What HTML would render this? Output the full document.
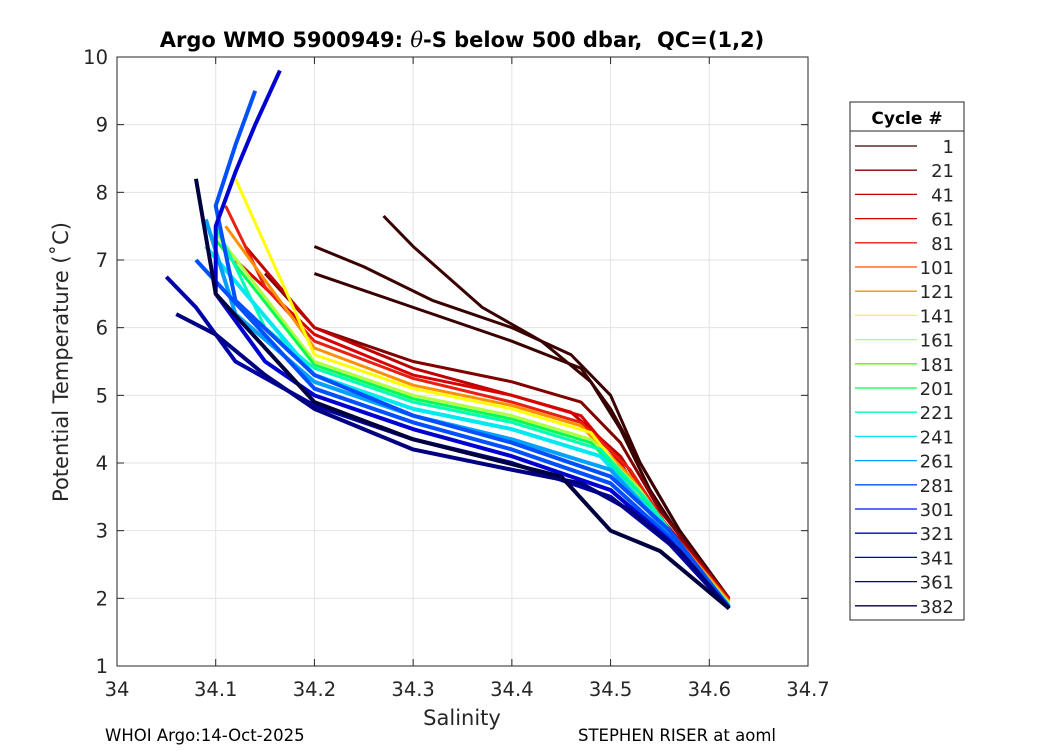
<!DOCTYPE html>
<html><head><meta charset="utf-8"><style>
body{margin:0;background:#fff;}
svg text{font-family:"DejaVu Sans","Liberation Sans",sans-serif;}
</style></head><body>
<svg id="c" width="1050" height="750" xmlns="http://www.w3.org/2000/svg">
<rect width="1050" height="750" fill="#fff"/>
<text x="462" y="47" font-size="21" font-weight="bold" text-anchor="middle" style="white-space:pre">Argo WMO 5900949: <tspan font-style="italic" font-weight="normal" font-family="DejaVu Serif,serif">θ</tspan>-S below 500 dbar,  QC=(1,2)</text>
<g id="grid"></g><g id="lines"></g><g id="axes"></g>
<text x="462" y="725" font-size="21" text-anchor="middle" fill="#262626">Salinity</text>
<text transform="translate(68,362) rotate(-90)" font-size="21" text-anchor="middle" fill="#262626">Potential Temperature (˚C)</text>
<text x="105" y="741" font-size="16.5">WHOI Argo:14-Oct-2025</text>
<text x="578" y="741" font-size="16.5">STEPHEN RISER at aoml</text>
<g id="legend"></g>
</svg>
<script>
const xTicks=[34,34.1,34.2,34.3,34.4,34.5,34.6,34.7];
const yTicks=[1,2,3,4,5,6,7,8,9,10];
const legendCycles=[1,21,41,61,81,101,121,141,161,181,201,221,241,261,281,301,321,341,361,382];
const legendColors=["#3a0000","#800000","#bf0000","#d80000","#e82010","#ff5000","#ff9000","#ffff00","#b0ff40","#50ff00","#00ff50","#00ffb0","#00e8f0","#00a0ff","#0050ff","#0010ff","#0000d0","#0000a8","#000080","#000040"];
const profileCycles=[1,5,10,25,45,70,100,130,150,180,210,230,250,270,290,300,330,350,370,382];
const profileS=[
[34.27,34.3,34.37,34.43,34.48,34.51,34.54,34.58,34.62],
[34.2,34.25,34.32,34.4,34.46,34.5,34.53,34.57,34.62],
[34.2,34.3,34.4,34.47,34.5,34.53,34.57,34.62],
[34.15,34.2,34.3,34.4,34.47,34.51,34.55,34.62],
[34.13,34.2,34.3,34.4,34.46,34.51,34.55,34.62],
[34.12,34.2,34.3,34.4,34.47,34.51,34.55,34.62],
[34.11,34.15,34.2,34.3,34.4,34.47,34.52,34.56,34.62],
[34.11,34.2,34.3,34.4,34.47,34.52,34.56,34.62],
[34.12,34.2,34.3,34.4,34.48,34.52,34.56,34.62],
[34.1,34.2,34.3,34.4,34.48,34.53,34.57,34.62],
[34.1,34.2,34.3,34.4,34.48,34.53,34.57,34.62],
[34.1,34.15,34.2,34.3,34.4,34.49,34.54,34.58,34.62],
[34.09,34.2,34.3,34.4,34.49,34.54,34.58,34.62],
[34.09,34.12,34.2,34.3,34.4,34.5,34.55,34.62],
[34.08,34.2,34.3,34.4,34.5,34.56,34.62],
[34.14,34.12,34.1,34.12,34.2,34.3,34.4,34.5,34.56,34.62],
[34.165,34.14,34.12,34.1,34.1,34.15,34.2,34.3,34.4,34.5,34.56,34.62],
[34.05,34.08,34.12,34.2,34.3,34.4,34.5,34.56,34.62],
[34.06,34.1,34.15,34.2,34.3,34.4,34.47,34.52,34.57,34.62],
[34.08,34.1,34.2,34.3,34.45,34.5,34.55,34.62]];
const profileT=[
[7.65,7.2,6.3,5.8,5.2,4.5,3.6,2.7,2.0],
[7.2,6.9,6.4,6.0,5.6,5.0,4.0,3.0,2.0],
[6.8,6.3,5.8,5.4,4.8,4.0,3.0,2.0],
[6.8,6.0,5.5,5.2,4.9,4.3,3.3,2.0],
[7.2,6.0,5.4,5.0,4.75,4.1,3.2,2.0],
[7.0,5.9,5.3,5.0,4.7,4.0,3.1,1.98],
[7.8,6.6,5.8,5.25,4.9,4.6,3.9,3.0,1.97],
[7.5,5.7,5.15,4.85,4.55,3.8,3.0,1.95],
[8.2,5.6,5.1,4.8,4.45,3.7,2.9,1.93],
[7.4,5.5,5.0,4.7,4.35,3.6,2.8,1.92],
[7.3,5.45,4.95,4.65,4.3,3.55,2.75,1.9],
[7.5,6.0,5.4,4.9,4.6,4.2,3.4,2.6,1.9],
[7.2,5.3,4.8,4.5,4.1,3.3,2.6,1.88],
[7.6,6.2,5.2,4.7,4.35,3.9,3.1,1.87],
[7.0,5.1,4.6,4.2,3.7,2.9,1.86],
[9.5,8.7,7.8,6.4,5.3,4.7,4.3,3.8,3.0,1.87],
[9.8,9.0,8.3,7.5,6.5,5.5,5.0,4.5,4.1,3.6,2.85,1.85],
[6.75,6.3,5.5,4.85,4.35,4.0,3.5,2.8,1.85],
[6.2,5.9,5.3,4.8,4.2,3.9,3.7,3.3,2.7,1.85],
[8.2,6.5,4.9,4.35,3.8,3.0,2.7,1.85]];
const NS="http://www.w3.org/2000/svg";
const X0=117,X1=808,Y0=666,Y1=57;
const sx=s=>X0+(s-34)/(34.7-34)*(X1-X0);
const sy=t=>Y0-(t-1)/(10-1)*(Y0-Y1);
function mk(tag,attrs,parent){const e=document.createElementNS(NS,tag);for(const k in attrs)e.setAttribute(k,attrs[k]);parent.appendChild(e);return e;}
function colorFor(c){let i=0;for(let k=0;k<legendCycles.length;k++)if(c>=legendCycles[k])i=k;return legendColors[i];}
const grid=document.getElementById('grid'),axes=document.getElementById('axes'),lines=document.getElementById('lines');
xTicks.forEach(v=>{
 const l=mk('line',{x1:sx(v),x2:sx(v),y1:Y1,y2:Y0,stroke:'#e3e3e3','stroke-width':1},grid);
 
 mk('line',{x1:sx(v),x2:sx(v),y1:Y0,y2:Y0-7,stroke:'#262626'},axes);
 mk('line',{x1:sx(v),x2:sx(v),y1:Y1,y2:Y1+7,stroke:'#262626'},axes);
 const t=mk('text',{x:sx(v),y:Y0+30,'font-size':19.5,'text-anchor':'middle',fill:'#262626'},axes);t.textContent=v;
 
});
yTicks.forEach(v=>{
 const l=mk('line',{x1:X0,x2:X1,y1:sy(v),y2:sy(v),stroke:'#e3e3e3','stroke-width':1},grid);
 
 mk('line',{x1:X0,x2:X0+7,y1:sy(v),y2:sy(v),stroke:'#262626'},axes);
 mk('line',{x1:X1,x2:X1-7,y1:sy(v),y2:sy(v),stroke:'#262626'},axes);
 const t=mk('text',{x:X0-9,y:sy(v)+7,'font-size':19.5,'text-anchor':'end',fill:'#262626'},axes);t.textContent=v;
 
});
const fr=mk('rect',{x:X0,y:Y1,width:X1-X0,height:Y0-Y1,fill:'none',stroke:'#262626'},axes);

profileCycles.forEach((c,i)=>{
 const pts=profileS[i].map((s,j)=>sx(s)+','+sy(profileT[i][j])).join(' ');
 const p=mk('polyline',{points:pts,fill:'none',stroke:colorFor(c),'stroke-width':c>=250?4:3,'stroke-linejoin':'round'},lines);
 
 
});
const lg=document.getElementById('legend');
mk('rect',{x:850,y:102,width:114,height:518,fill:'#fff',stroke:'#262626'},lg);
mk('line',{x1:850,x2:964,y1:131,y2:131,stroke:'#262626'},lg);
const lt=mk('text',{x:907,y:124,'font-size':17,'font-weight':'bold','text-anchor':'middle'},lg);lt.textContent='Cycle #';

legendCycles.forEach((c,i)=>{
 const y=146+i*24.2;
 const l=mk('line',{x1:855,x2:917,y1:y,y2:y,stroke:legendColors[i],'stroke-width':1.3},lg);
 
 const t=mk('text',{x:954,y:y+7,'font-size':18,'text-anchor':'end',fill:'#262626'},lg);t.textContent=c;
 
});
</script>
</body></html>
